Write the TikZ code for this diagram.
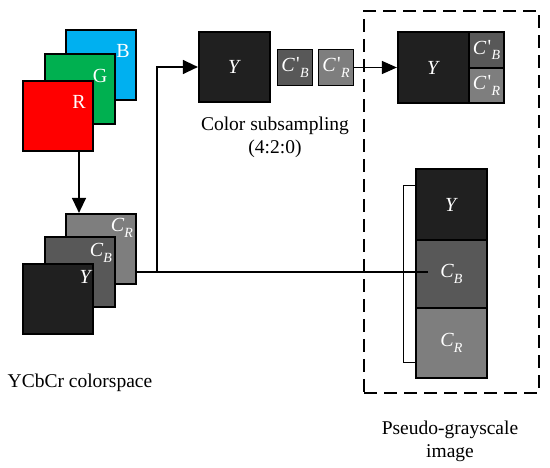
\documentclass[tikz,border=0pt]{standalone}
\usepackage{fontspec}
\setmainfont{Liberation Serif}
\usetikzlibrary{arrows.meta}
\definecolor{cBlue}{RGB}{0,176,240}
\definecolor{cGreen}{RGB}{0,176,80}
\definecolor{cRed}{RGB}{255,0,0}
\definecolor{gY}{RGB}{32,32,32}
\definecolor{gCB}{RGB}{88,88,88}
\definecolor{gCR}{RGB}{126,126,126}
\newcommand\chsub[2]{\textit{#1}\raisebox{-0.28em}{\fontsize{14}{14}\selectfont\textit{#2}}}
\newcommand\chpsub[2]{\textit{#1}\kern1.2pt\raisebox{0.05em}{\textquotesingle}\kern0.3pt\raisebox{-0.28em}{\fontsize{14}{14}\selectfont\textit{#2}}}
\begin{document}
\begin{tikzpicture}[x=1pt,y=-1pt,
  plane/.style={draw=black, line width=2.2pt, inner sep=0pt, minimum width=70pt, minimum height=70pt},
  small/.style={draw=black, line width=1.8pt, inner sep=0pt, minimum width=35pt, minimum height=36pt},
  lbl/.style={text=white, inner sep=0pt, font=\fontsize{20}{22}\selectfont},
  rgblbl/.style={text=white, inner sep=0pt, font=\fontsize{20}{22}\selectfont},
  caption/.style={align=center, inner sep=0pt, font=\fontsize{19.5}{22.5}\selectfont},
  conn/.style={draw=black, line width=1.3pt},
  arr/.style={conn, -{Triangle[length=15pt,width=14pt]}},
  frame/.style={draw=black, line width=2.4pt, dash pattern=on 13pt off 7pt, inner sep=0pt, minimum width=175pt, minimum height=382pt}
]
\useasboundingbox (0,0) rectangle (550,468);

% RGB planes
\node[plane, fill=cBlue] (rgbB) at (101,65) {};
\node[plane, fill=cGreen] (rgbG) at (80,89) {};
\node[plane, fill=cRed] (rgbR) at (58,116) {};
\node[rgblbl] (lB) at (123,51) {B};
\node[rgblbl] (lG) at (100,76) {G};
\node[rgblbl] (lR) at (79,102) {R};

% YCbCr planes
\node[plane, fill=gCR] (ycCR) at (101,249) {};
\node[plane, fill=gCB] (ycCB) at (80,272) {};
\node[plane, fill=gY] (ycY) at (58,299) {};
\node[lbl] (lCR) at (122,228) {\chsub{C}{R}};
\node[lbl] (lCB) at (101,253) {\chsub{C}{B}};
\node[lbl] (lY) at (86,277) {\textit{Y}};
\node[caption] (capYC) at (80,383) {YCbCr colorspace};

% arrow RGB -> YCbCr
\coordinate (ax) at (79,0);
\draw[arr] (rgbR.south -| ax) -- (ycCR.north -| ax);

% color subsampling
\node[plane, fill=gY, minimum width=71pt] (subY) at (234.5,67) {};
\node[lbl] at (subY) {\textit{Y}};
\node[small, fill=gCB] (subCb) at (295,67.5) {};
\node[lbl] at (subCb) {\chpsub{C}{B}};
\node[small, fill=gCR] (subCr) at (336,67.5) {};
\node[lbl] at (subCr) {\chpsub{C}{R}};
\node[caption] (capSub) at (275,137.5) {Color subsampling\\(4:2:0)};

% dashed frame
\node[frame] (frm) at (451.5,202) {};

% combined subsampled image
\node[plane, fill=gY, minimum width=71pt, minimum height=71pt] (combY) at (433.5,67.5) {};
\node[lbl] at (combY) {\textit{Y}};
\node[small, fill=gCB, minimum height=35.5pt] (combCb) at (486.5,50) {};
\node[lbl] at (combCb) {\chpsub{C}{B}};
\node[small, fill=gCR, minimum height=35.5pt] (combCr) at (486.5,85.5) {};
\node[lbl] at (combCr) {\chpsub{C}{R}};

% pseudo-grayscale column
\node[plane, fill=gY, minimum width=71pt, minimum height=71pt] (pY) at (451.5,204.5) {};
\node[lbl] at (pY) {\textit{Y}};
\node[plane, fill=gCB, minimum width=71pt, minimum height=68pt] (pCB) at (451.5,274) {};
\node[lbl] at (pCB) {\chsub{C}{B}};
\node[plane, fill=gCR, minimum width=71pt, minimum height=70pt] (pCR) at (451.5,343) {};
\node[lbl] at (pCR) {\chsub{C}{R}};
\node[caption] (capP) at (450,441.5) {Pseudo-grayscale\\image};

% bracket
\draw[draw=black, line width=0.9pt] (pY.west |- 0,185) -- (403,185) -- (403,362) -- (pCR.west |- 0,362);

% connectors
\coordinate (br) at (157,272);
\coordinate (cbEnd) at (428,272);
\draw[conn] (ycCR.east |- br) -- (cbEnd);
\draw[arr] (br) |- (subY.west);
\draw[arr, -{Triangle[length=15pt,width=13pt]}] (subCr.east) -- (combY.west);
\end{tikzpicture}
\end{document}
